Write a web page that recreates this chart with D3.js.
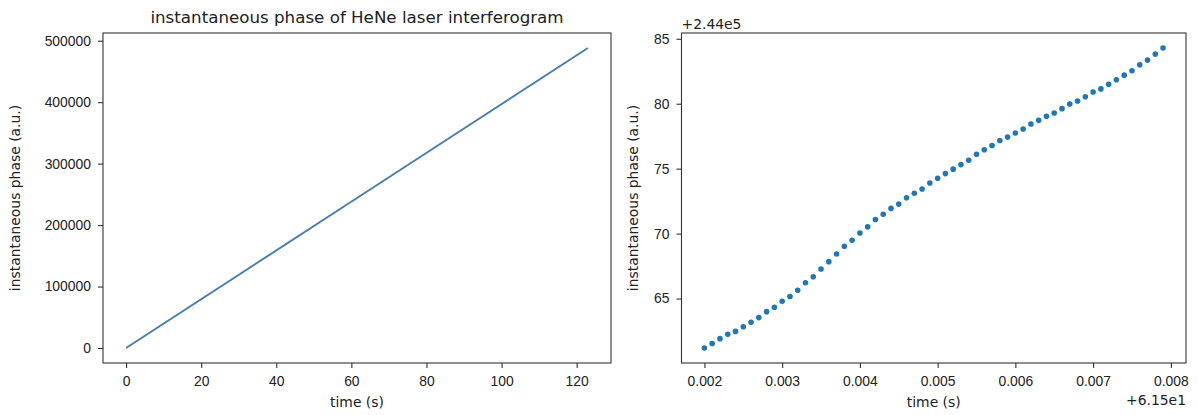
<!DOCTYPE html>
<html>
<head>
<meta charset="utf-8">
<script src="https://cdn.jsdelivr.net/npm/d3@7"></script>
<style>
  body { margin: 0; background: #fff; }
  svg { display: block; font-family: "DejaVu Sans", sans-serif; }
  .tick text { font-size: 13.9px; fill: #222; }
  .tick line { stroke: #333; stroke-width: 1.1; }
  .domain { display: none; }
  .lbl { font-size: 13.9px; fill: #222; }
</style>
</head>
<body>
<div id="chart"></div>
<script>
// left panel: whole recording
const fullTime = [0, 61.5, 123];
const fullPhase = [0, 244070, 488140];
const fullXTicks = [0, 20, 40, 60, 80, 100, 120];
const fullYTicks = [0, 100000, 200000, 300000, 400000, 500000];

// right panel: zoom around t = 61.5 s (offsets +6.15e1 and +2.44e5)
const zoomTime = [
  0.0020, 0.0021, 0.0022, 0.0023, 0.0024, 0.0025, 0.0026, 0.0027, 0.0028, 0.0029,
  0.0030, 0.0031, 0.0032, 0.0033, 0.0034, 0.0035, 0.0036, 0.0037, 0.0038, 0.0039,
  0.0040, 0.0041, 0.0042, 0.0043, 0.0044, 0.0045, 0.0046, 0.0047, 0.0048, 0.0049,
  0.0050, 0.0051, 0.0052, 0.0053, 0.0054, 0.0055, 0.0056, 0.0057, 0.0058, 0.0059,
  0.0060, 0.0061, 0.0062, 0.0063, 0.0064, 0.0065, 0.0066, 0.0067, 0.0068, 0.0069,
  0.0070, 0.0071, 0.0072, 0.0073, 0.0074, 0.0075, 0.0076, 0.0077, 0.0078, 0.0079
];
const zoomPhase = [
  61.19, 61.54, 61.91, 62.24, 62.47, 62.83, 63.17, 63.53, 63.99, 64.33,
  64.79, 65.15, 65.64, 66.21, 66.68, 67.27, 67.84, 68.43, 69.02, 69.49,
  70.05, 70.52, 71.09, 71.48, 71.94, 72.27, 72.76, 73.10, 73.43, 73.90,
  74.26, 74.62, 74.96, 75.31, 75.65, 76.10, 76.45, 76.78, 77.17, 77.43,
  77.74, 78.05, 78.44, 78.72, 79.03, 79.29, 79.62, 79.98, 80.21, 80.54,
  80.90, 81.14, 81.50, 81.84, 82.20, 82.54, 83.00, 83.36, 83.82, 84.29
];
const zoomXTicks = [0.002, 0.003, 0.004, 0.005, 0.006, 0.007, 0.008];
const zoomYTicks = [65, 70, 75, 80, 85];

const width = 1198, height = 415;
const plotTop = 33, plotBottom = 363;

const svg = d3.select("#chart").append("svg")
    .attr("width", width)
    .attr("height", height);

// matplotlib style 5% margins
function padded(vals) {
    const [lo, hi] = d3.extent(vals);
    const m = (hi - lo) * 0.05;
    return [lo - m, hi + m];
}

function drawPanel(opt) {
    const x = d3.scaleLinear().domain(padded(opt.xs)).range([opt.left, opt.right]);
    const y = d3.scaleLinear().domain(padded(opt.ys)).range([plotBottom, plotTop]);

    svg.append("g")
        .attr("transform", `translate(0,${plotBottom})`)
        .call(d3.axisBottom(x).tickValues(opt.xTicks).tickFormat(opt.xFmt)
            .tickSize(5).tickPadding(8));

    svg.append("g")
        .attr("transform", `translate(${opt.left},0)`)
        .call(d3.axisLeft(y).tickValues(opt.yTicks).tickFormat(opt.yFmt)
            .tickSize(5).tickPadding(7));

    opt.draw(x, y);

    svg.append("rect")
        .attr("x", opt.left).attr("y", plotTop)
        .attr("width", opt.right - opt.left).attr("height", plotBottom - plotTop)
        .attr("fill", "none").attr("stroke", "#333").attr("stroke-width", 1.1);

    const cx = (opt.left + opt.right) / 2;
    svg.append("text").attr("class", "lbl")
        .attr("x", cx).attr("y", 407)
        .attr("text-anchor", "middle")
        .text("time (s)");

    svg.append("text").attr("class", "lbl")
        .attr("transform", `translate(${opt.ylabelX},${(plotTop + plotBottom) / 2}) rotate(-90)`)
        .attr("text-anchor", "middle")
        .text("instantaneous phase (a.u.)");
}

drawPanel({
    left: 103, right: 611, ylabelX: 20,
    xs: fullTime, ys: fullPhase,
    xTicks: fullXTicks, yTicks: fullYTicks,
    xFmt: d3.format("d"), yFmt: d3.format("d"),
    draw: (x, y) => {
        const pts = fullTime.map((t, i) => [t, fullPhase[i]]);
        svg.append("path")
            .datum(pts)
            .attr("fill", "none")
            .attr("stroke", "#4a7fab")
            .attr("stroke-width", 2)
            .attr("d", d3.line().x(d => x(d[0])).y(d => y(d[1])));
    }
});

drawPanel({
    left: 681.5, right: 1186, ylabelX: 638,
    xs: zoomTime, ys: zoomPhase,
    xTicks: zoomXTicks, yTicks: zoomYTicks,
    xFmt: d3.format(".3f"), yFmt: d3.format("d"),
    draw: (x, y) => {
        svg.append("g")
            .selectAll("circle")
            .data(zoomTime.map((t, i) => [t, zoomPhase[i]]))
            .join("circle")
            .attr("cx", d => x(d[0]))
            .attr("cy", d => y(d[1]))
            .attr("r", 2.8)
            .attr("fill", "#1f77b4");
    }
});

svg.append("text").attr("class", "lbl")
    .attr("x", 357).attr("y", 23)
    .attr("text-anchor", "middle")
    .style("font-size", "16.7px")
    .text("instantaneous phase of HeNe laser interferogram");

// offset texts of the zoomed panel
svg.append("text").attr("class", "lbl")
    .attr("x", 681.5).attr("y", 29)
    .text("+2.44e5");

svg.append("text").attr("class", "lbl")
    .attr("x", 1186).attr("y", 405)
    .attr("text-anchor", "end")
    .text("+6.15e1");
</script>
</body>
</html>
